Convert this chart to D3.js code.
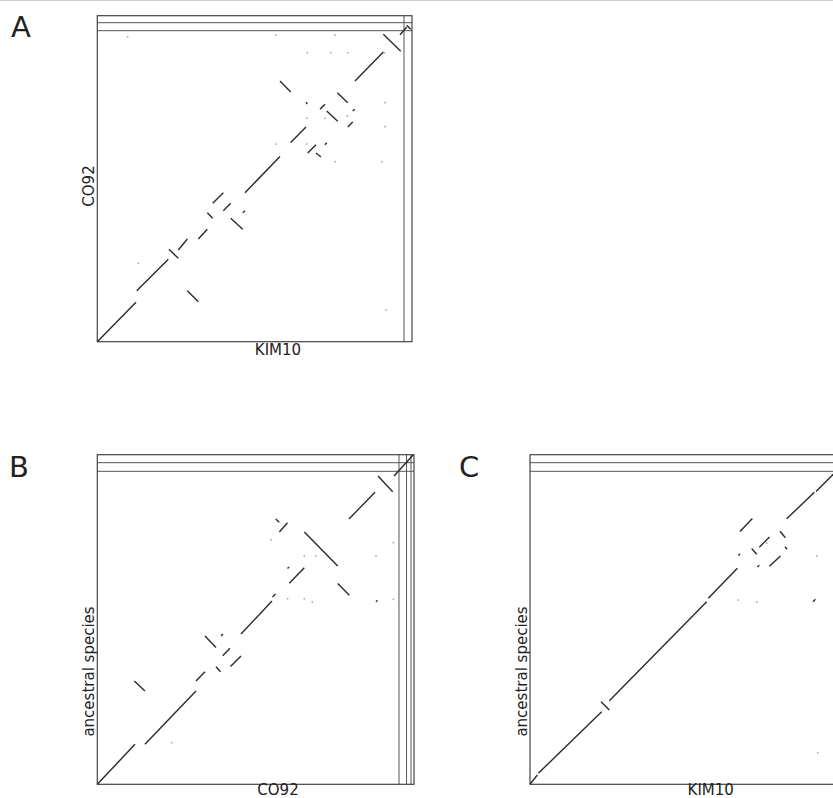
<!DOCTYPE html>
<html>
<head>
<meta charset="utf-8">
<script src="https://cdn.jsdelivr.net/npm/d3@7"></script>
<style>
  html, body { margin: 0; padding: 0; background: #fff; }
  svg { display: block; }
  text { font-family: "DejaVu Sans", sans-serif; fill: #222; }
</style>
</head>
<body>
<script>
// ---------------- DATA (genome positions in kb) ----------------
// contig lengths along each axis (chromosome first, then plasmids)
const kim10Contigs   = [4600, 120];
const co92ContigsA   = [4665, 120, 105];
const co92ContigsB   = [4525, 113, 67, 45];
const ancestralContigs = [4695, 129, 120];

// alignment segments: [xStart, yStart, xEnd, yEnd]
const segmentsA = [
  [0, 0, 580, 591], [591, 765, 1065, 1236], [1075, 1386, 1215, 1251],
  [1215, 1375, 1350, 1540], [1515, 1540, 1650, 1686], [1650, 1935, 1731, 1851],
  [1731, 2076, 1890, 2235], [1890, 1965, 2001, 2076], [2001, 1851, 2181, 1686],
  [2181, 1935, 2215, 1965], [2215, 2235, 2740, 2778], [2901, 2988, 3130, 3220],
  [2740, 3910, 2901, 3745], [3130, 3595, 3150, 3565], [3340, 3486, 3415, 3561],
  [3441, 3460, 3606, 3306], [3600, 3735, 3756, 3585], [3831, 3460, 3861, 3486],
  [3756, 3220, 3831, 3295], [3156, 2830, 3280, 2955], [3280, 2830, 3355, 2770],
  [3415, 2955, 3441, 2985], [3865, 3910, 4290, 4345], [4290, 4611, 4551, 4356],
  [4540, 4605, 4641, 4720], [4641, 4746, 4701, 4686],
  [1350, 765, 1515, 600]
];
const dotsA = [
  [456, 4575], [2676, 4600], [3565, 4600], [3150, 4335], [3501, 4335],
  [3756, 4335], [4305, 4335], [4315, 3585], [3141, 3351], [3415, 3351],
  [3750, 3385], [4315, 3225], [2676, 2965], [3141, 2965], [3565, 2700],
  [4266, 2700], [615, 1176], [4330, 475]
];

const segmentsB = [
  [0, 0, 565, 600], [715, 600, 1480, 1400], [1480, 1550, 1615, 1689],
  [555, 1550, 715, 1400], [1780, 1764, 1848, 1689], [1998, 1767, 2155, 1925],
  [1881, 1929, 1990, 2040], [1615, 2224, 1780, 2052], [1855, 2224, 1885, 2254],
  [2155, 2254, 2620, 2749], [2628, 2809, 2673, 2854], [2880, 3015, 3105, 3249],
  [2853, 3237, 2875, 3259], [3105, 3784, 3606, 3274], [3606, 3012, 3780, 2836],
  [2730, 3784, 2853, 3924], [2676, 3979, 2730, 3930], [3775, 3979, 4165, 4381],
  [4210, 4624, 4431, 4387], [4450, 4624, 4740, 4944], [4180, 2737, 4200, 2761]
];
const dotsB = [
  [1116, 624], [2605, 3669], [3105, 3424], [3276, 3424], [4180, 3424],
  [4440, 3624], [2853, 2784], [3105, 2784], [3225, 2734], [4440, 2775]
];

const segmentsC = [
  [0, 0, 110, 140], [125, 165, 1075, 1089], [1065, 1239, 1190, 1114],
  [1190, 1254, 2650, 2739], [2675, 2790, 3110, 3240], [3150, 3792, 3335, 3987],
  [3125, 3432, 3150, 3457], [3325, 3537, 3400, 3452], [3440, 3555, 3592, 3709],
  [3750, 3796, 3830, 3698], [3825, 3563, 3855, 3525], [3590, 3270, 3757, 3424],
  [3410, 3259, 3440, 3285], [3850, 3982, 4265, 4380], [4290, 4392, 4590, 4692],
  [4245, 2737, 4280, 2775]
];
const dotsC = [
  [3125, 2764], [3400, 2737], [4300, 3424], [3550, 3620], [4315, 474]
];

const panelLetters = ["A", "B", "C"];
const xLabels = ["KIM10", "CO92", "KIM10"];
const yLabels = ["CO92", "ancestral species", "ancestral species"];

// ---------------- DRAWING ----------------
const W = 833, H = 798;
const svg = d3.select("body").append("svg").attr("width", W).attr("height", H);

svg.append("line").attr("x1", 0).attr("x2", W).attr("y1", 0.5).attr("y2", 0.5)
  .attr("stroke", "#cfcfcf").attr("stroke-width", 1);

const panels = [
  { xc: kim10Contigs, yc: co92ContigsA, seg: segmentsA, dots: dotsA,
    xr: [97.3, 412], yr: [341.7, 15.7], letterPos: [11, 37], yLabY: 186, xLabBase: 354.5 },
  { xc: co92ContigsB, yc: ancestralContigs, seg: segmentsB, dots: dotsB,
    xr: [97.3, 414], yr: [784.3, 454.7], letterPos: [9, 477], yLabY: 671.5, xLabBase: 794.5 },
  { xc: kim10Contigs, yc: ancestralContigs, seg: segmentsC, dots: dotsC,
    xr: [530, 844.7], yr: [784.3, 454.7], letterPos: [459, 477], yLabY: 671.5, xLabBase: 794.5 }
];

panels.forEach((p, i) => {
  const x = d3.scaleLinear().domain([0, d3.sum(p.xc)]).range(p.xr);
  const y = d3.scaleLinear().domain([0, d3.sum(p.yc)]).range(p.yr);
  const g = svg.append("g");

  // contig boundaries
  const xb = d3.cumsum(p.xc).slice(0, -1);
  const yb = d3.cumsum(p.yc).slice(0, -1);
  g.selectAll(".vb").data(xb).join("line")
    .attr("x1", d => x(d)).attr("x2", d => x(d))
    .attr("y1", y(0)).attr("y2", y(d3.sum(p.yc)))
    .attr("stroke", "#555").attr("stroke-width", 1);
  g.selectAll(".hb").data(yb).join("line")
    .attr("x1", x(0)).attr("x2", x(d3.sum(p.xc)))
    .attr("y1", d => y(d)).attr("y2", d => y(d))
    .attr("stroke", "#555").attr("stroke-width", 1);

  // frame
  g.append("rect")
    .attr("x", x(0)).attr("y", y(d3.sum(p.yc)))
    .attr("width", x(d3.sum(p.xc)) - x(0))
    .attr("height", y(0) - y(d3.sum(p.yc)))
    .attr("fill", "none").attr("stroke", "#444").attr("stroke-width", 1.2);

  // dots
  g.selectAll(".dot").data(p.dots).join("rect")
    .attr("x", d => x(d[0]) - 0.8).attr("y", d => y(d[1]) - 0.8)
    .attr("width", 1.6).attr("height", 1.6).attr("fill", "#aaa");

  // segments
  g.selectAll(".seg").data(p.seg).join("line")
    .attr("x1", d => x(d[0])).attr("y1", d => y(d[1]))
    .attr("x2", d => x(d[2])).attr("y2", d => y(d[3]))
    .attr("stroke", "#2a2a2a").attr("stroke-width", 1.4)
    .attr("stroke-linecap", "butt");

  // labels
  svg.append("text").attr("x", p.letterPos[0]).attr("y", p.letterPos[1])
    .attr("font-size", 29).text(panelLetters[i]);
  svg.append("text").attr("x", p.xr[0] + 180.7).attr("y", p.xLabBase)
    .attr("text-anchor", "middle").attr("font-size", 15).text(xLabels[i]);
  svg.append("text")
    .attr("transform", `translate(${p.xr[0] - 3.5},${p.yLabY}) rotate(-90)`)
    .attr("text-anchor", "middle").attr("font-size", 15).text(yLabels[i]);
});
</script>
</body>
</html>
